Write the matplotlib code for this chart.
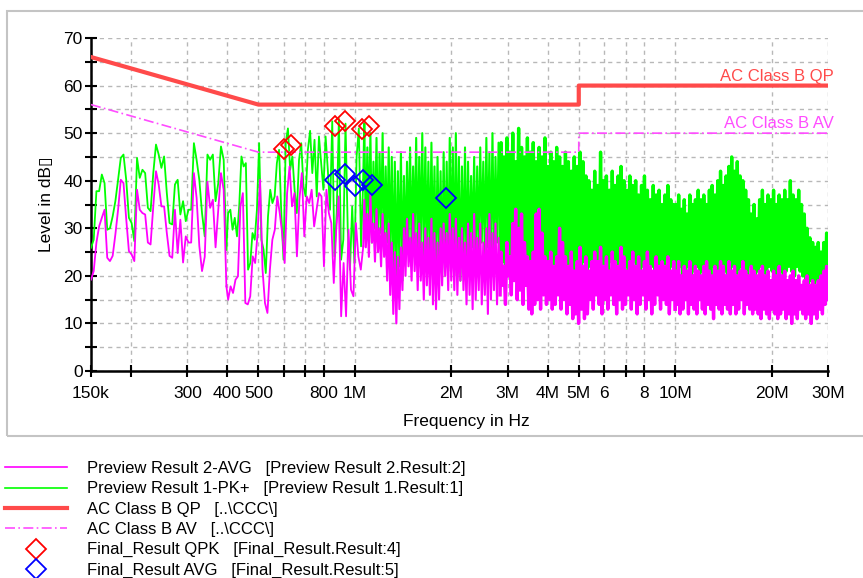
import numpy as np
import matplotlib
matplotlib.use("Agg")
import matplotlib.pyplot as plt
from matplotlib.lines import Line2D
from matplotlib.patches import Rectangle
from matplotlib.ticker import FixedLocator, NullLocator, FixedFormatter

plt.rcParams['font.family'] = ['Liberation Sans', 'DejaVu Sans']
plt.rcParams['path.simplify'] = False  # keep every sweep point

# ---- preview scan, 150k - 400k (read point by point)
pk_a = [25.9, 27.6, 37.8, 37.8, 41.3, 39.5, 29.7, 30.0, 32.5, 35.7,
        40.2, 44.8, 45.5, 40.2, 32.2, 31.1, 27.3, 44.8, 40.6, 42.3,
        41.6, 34.3, 33.6, 41.6, 47.6, 45.5, 42.7, 45.1, 37.4, 31.1,
        30.8, 39.2, 40.2, 32.9, 35.7, 31.5, 33.9, 33.9, 47.9, 44.4,
        40.2, 33.2, 28.3, 45.5, 44.4, 45.5, 35.7, 39.5, 47.2, 44.4, 25.5]
av_a = [19.2, 21.0, 27.0, 30.4, 32.2, 33.9, 23.8, 23.1, 24.2, 28.7,
        33.9, 40.2, 39.5, 32.0, 25.2, 24.5, 23.1, 38.1, 33.9, 33.2,
        32.9, 27.0, 26.6, 34.6, 42.0, 39.2, 34.6, 34.6, 29.0, 24.2,
        23.8, 33.9, 24.8, 31.8, 22.8, 28.3, 27.0, 27.0, 41.6, 36.4,
        26.3, 21.0, 24.0, 39.8, 34.3, 36.0, 26.0, 33.9, 41.6, 38.1, 17.8]

# ---- 400k - 1.06M
pk_b = [33.2, 33.9, 29.7, 32.2, 28.3, 34.6, 45.1, 43.0, 43.7, 21.3,
        22.7, 29.0, 27.6, 33.9, 47.9, 27.6, 25.5, 20.6, 32.5, 38.1,
        35.3, 36.7, 43.7, 46.5, 33.2, 23.4, 47.9, 51.0, 42.3, 45.1,
        38.1, 33.2, 44.4, 47.9, 38.8, 36.7, 46.5, 50.5, 41.6, 48.6,
        36.7, 49.3, 43.7, 38.1, 49.3, 42.3, 33.9, 52.5, 24.1, 33.2,
        53.0, 23.4, 27.6, 52.0, 29.7, 21.3, 34.6, 22.7, 45.1, 51.0,
        26.2, 40.2]
av_b = [15.0, 17.8, 16.4, 19.2, 19.9, 34.6, 37.4, 14.3, 14.0, 15.7,
        24.1, 22.7, 29.0, 40.2, 21.3, 14.3, 12.2, 21.3, 27.6, 29.7,
        36.7, 33.2, 29.0, 22.7, 37.4, 43.0, 34.6, 37.4, 24.1, 36.0,
        41.6, 28.3, 36.7, 35.3, 38.1, 30.4, 33.9, 37.4, 36.7, 22.0,
        38.1, 33.2, 31.1, 18.5, 29.7, 36.7, 11.5, 22.7, 11.5, 29.7,
        17.1, 15.7, 31.1, 24.1, 21.3, 26.2]

# ---- dense part: peaks (hi) and troughs (lo) of each sweep section
pk_c1_hi = [52, 47, 50, 44, 49, 46, 50, 43, 47, 45, 44, 42, 46, 41, 44,
            47, 43, 49, 45, 50, 47, 44, 48, 43, 45, 42, 46, 44, 49, 47,
            50, 45, 43, 47, 44, 41, 45, 43, 47, 44, 49, 46, 50, 45, 48]
pk_c1_lo = [28, 31, 27, 30, 26, 29, 25, 27, 24, 20, 18, 22, 19, 24, 27,
            25, 28, 24, 26, 23, 25, 22, 24, 21, 23, 20, 22, 21, 24, 20,
            22, 19, 23, 21, 24, 26, 23, 25, 27, 24, 26, 23, 25, 27, 24]
av_c1_hi = [36, 33, 37, 31, 34, 30, 33, 29, 31, 27, 25, 24, 26, 30, 32,
            28, 33, 29, 31, 27, 30, 28, 32, 29, 27, 30, 31, 29, 33, 30,
            32, 28, 30, 27, 31, 29, 33, 28, 31, 27, 30, 33, 29, 31, 28]
av_c1_lo = [26, 24, 27, 23, 25, 22, 24, 19, 16, 12, 10, 13, 17, 20, 22,
            19, 21, 17, 19, 15, 18, 16, 14, 13, 15, 18, 20, 17, 19, 17,
            16, 19, 17, 14, 16, 13, 15, 17, 14, 16, 12, 15, 17, 14, 16]

pk_c2_hi = [48, 45, 49, 46, 50, 44, 51, 47, 45, 49, 46, 48, 44, 47, 45,
            49, 43, 46, 44, 47, 45, 43, 46, 44, 42, 45, 43, 46, 44, 41,
            40, 38, 42, 39, 46, 40, 41, 38, 42, 39, 41, 43, 40, 38, 41,
            39, 40, 37, 39, 41, 38, 36, 39, 37, 38, 35, 37, 39, 36, 35]
pk_c2_lo = [23, 21, 24, 22, 20, 23, 21, 24, 22, 21, 23, 20, 22, 21, 23,
            20, 22, 21, 20, 22, 21, 23, 20, 22, 21, 20, 22, 21, 23, 21,
            22, 20, 23, 21, 22, 20, 21, 23, 21, 22, 20, 21, 22, 20, 21,
            23, 21, 20, 22, 21, 20, 22, 21, 20, 22, 21, 20, 21, 22, 20]
av_c2_hi = [25, 22, 27, 24, 31, 34, 30, 33, 27, 24, 23, 25, 33, 34, 29,
            24, 23, 25, 22, 24, 30, 27, 24, 22, 25, 21, 23, 26, 22, 24,
            21, 23, 25, 23, 26, 22, 24, 21, 25, 23, 22, 26, 24, 21, 23,
            25, 22, 24, 21, 23, 25, 22, 21, 24, 22, 23, 22, 24, 21, 23]
av_c2_lo = [18, 14, 20, 16, 19, 15, 17, 14, 18, 13, 12, 14, 15, 13, 16,
            14, 15, 13, 14, 16, 13, 15, 12, 14, 11, 12, 10, 13, 11, 12,
            15, 13, 16, 14, 12, 15, 13, 16, 14, 12, 15, 13, 14, 16, 13,
            15, 12, 14, 16, 13, 15, 12, 14, 16, 13, 15, 14, 12, 15, 13]

pk_c3_hi = [35, 37, 34, 36, 33, 37, 35, 36, 38, 36, 37, 35, 38, 39, 37,
            40, 42, 39, 41, 43, 45, 42, 44, 41, 40, 38, 36, 33, 35, 32,
            36, 38, 35, 37, 36, 38, 35, 37, 36, 38, 36, 40, 37, 36, 38,
            35, 33, 30, 28, 27, 26, 27, 25, 27, 29]
pk_c3_lo = [21, 22, 20, 21, 22, 20, 21, 22, 20, 21, 22, 21, 20, 22, 21,
            20, 22, 21, 20, 21, 22, 20, 21, 22, 21, 20, 22, 21, 20, 21,
            22, 20, 21, 22, 21, 20, 22, 21, 20, 21, 22, 21, 20, 22, 21,
            20, 19, 18, 19, 18, 19, 18, 19, 18, 20]
av_c3_hi = [21, 23, 20, 22, 21, 23, 20, 22, 21, 20, 22, 23, 21, 20, 22,
            21, 23, 22, 20, 23, 21, 22, 20, 21, 23, 21, 20, 22, 21, 20,
            21, 22, 20, 21, 19, 21, 20, 22, 20, 21, 19, 20, 21, 19, 20,
            18, 19, 20, 18, 19, 18, 19, 20, 21, 22]
av_c3_lo = [14, 12, 13, 15, 12, 14, 13, 12, 15, 13, 12, 14, 13, 11, 14,
            13, 12, 14, 13, 12, 14, 12, 13, 15, 12, 14, 13, 12, 13, 12,
            11, 13, 12, 11, 13, 12, 11, 12, 13, 11, 12, 10, 12, 11, 13,
            12, 11, 12, 10, 12, 11, 13, 12, 14, 15]

# sweep section edges in Hz
sect_a = (150e3, 397e3)
sect_b = (402e3, 1.062e6)
sect_c1 = (1.07e6, 2.84e6)
sect_c2 = (2.86e6, 10.0e6)
sect_c3 = (10.05e6, 30.0e6)

# ---- limits
lim_f = [150e3, 500e3, 5e6, 5e6, 30e6]
lim_qp = [66, 56, 56, 60, 60]
lim_av = [56, 46, 46, 50, 50]

# ---- final measurements
qpk_f = [602e3, 630e3, 866e3, 931e3, 1.050e6, 1.109e6]
qpk_lvl = [46.6, 47.5, 51.6, 52.6, 50.8, 51.6]
avg_f = [866e3, 931e3, 1.0e6, 1.057e6, 1.128e6, 1.925e6]
avg_lvl = [40.2, 41.4, 38.9, 40.2, 39.0, 36.4]

xtick_pos = [150e3, 200e3, 300e3, 400e3, 500e3, 600e3, 700e3, 800e3, 1e6,
             2e6, 3e6, 4e6, 5e6, 6e6, 7e6, 8e6, 10e6, 20e6, 30e6]
xtick_lbl = ["150k", "", "300", "400", "500", "", "", "800", "1M",
             "2M", "3M", "4M", "5M", "6", "", "8", "10M", "20M", "30M"]


def zigzag(hi, lo):
    return np.column_stack([hi, lo]).ravel()


def build(parts):
    sects = [sect_a, sect_b, sect_c1, sect_c2, sect_c3]
    f = [np.geomspace(s[0], s[1], len(p)) for s, p in zip(sects, parts)]
    return f, [np.asarray(p, dtype=float) for p in parts]


pk_fs, pk_vs = build([pk_a, pk_b, zigzag(pk_c1_hi, pk_c1_lo),
                      zigzag(pk_c2_hi, pk_c2_lo), zigzag(pk_c3_hi, pk_c3_lo)])
av_fs, av_vs = build([av_a, av_b, zigzag(av_c1_hi, av_c1_lo),
                      zigzag(av_c2_hi, av_c2_lo), zigzag(av_c3_hi, av_c3_lo)])

fig = plt.figure(figsize=(8.63, 5.78), dpi=100)
ax = fig.add_axes([91 / 863, 1 - 371 / 578, 737 / 863, 333 / 578])

green = '#00ff00'
magenta = '#ff00ff'
qp_col = '#ff4a4a'
av_col = '#ff4cff'


def draw_trace(fs, vs, color, z):
    # sparse sections thin, the densest ones thicker so they read as a band
    widths = [1.3, 1.3, 1.5, 2.4, 2.4]
    for i in range(len(fs)):
        f, v = fs[i], vs[i]
        if i > 0:  # join to previous section
            f = np.concatenate([fs[i - 1][-1:], f])
            v = np.concatenate([vs[i - 1][-1:], v])
        ax.plot(f, v, color=color, lw=widths[i], zorder=z)


draw_trace(pk_fs, pk_vs, green, 3)
draw_trace(av_fs, av_vs, magenta, 4)
ax.plot(lim_f, lim_qp, color=qp_col, lw=3, zorder=5)
ax.plot(lim_f, lim_av, color=av_col, lw=1.2, ls=(0, (6, 2, 1, 2)), zorder=5)
ax.plot(qpk_f, qpk_lvl, ls='none', marker='D', ms=10, mfc='none',
        mec='#ff0000', mew=1.3, zorder=6)
ax.plot(avg_f, avg_lvl, ls='none', marker='D', ms=10, mfc='none',
        mec='#0000ff', mew=1.3, zorder=6)

ax.text(31.2e6, 61.9, "AC Class B QP", color=qp_col, fontsize=12,
        ha='right', va='center', zorder=7)
ax.text(31.2e6, 52.1, "AC Class B AV", color=av_col, fontsize=12,
        ha='right', va='center', zorder=7)

ax.set_xscale('log')
ax.set_xlim(150e3, 30e6)
ax.set_ylim(0, 70)
ax.xaxis.set_major_locator(FixedLocator(xtick_pos))
ax.xaxis.set_major_formatter(FixedFormatter(xtick_lbl))
ax.xaxis.set_minor_locator(NullLocator())
ax.set_yticks(range(0, 71, 10))
ax.set_yticks(range(5, 70, 10), minor=True)

ax.grid(True, which='both', color='#b8b8b8', ls=(0, (3, 3)), lw=1)
ax.set_axisbelow(True)
for s in ['top', 'right']:
    ax.spines[s].set_visible(False)
for s in ['left', 'bottom']:
    ax.spines[s].set_linewidth(1.8)
ax.tick_params(which='both', direction='inout', length=9, width=1.5,
               labelsize=12.5, colors='black')
ax.tick_params(axis='y', pad=1.5)
ax.tick_params(axis='x', pad=6)

ax.set_xlabel("Frequency in Hz", fontsize=12.5)
ax.xaxis.set_label_coords(0.51, -0.13)
ax.set_ylabel("Level in dB\u25af", fontsize=12.5)
ax.yaxis.set_label_coords(-0.050, 0.5)

# frame round the chart area
fig.patches.append(Rectangle((7 / 863, 1 - 436 / 578), 870 / 863, 425 / 578,
                             transform=fig.transFigure, fill=False,
                             edgecolor='#c4c4c4', lw=1.5))

handles = [
    Line2D([], [], color=magenta, lw=1.2),
    Line2D([], [], color=green, lw=1.2),
    Line2D([], [], color=qp_col, lw=3),
    Line2D([], [], color=av_col, lw=1.2, ls=(0, (6, 2, 1, 2))),
    Line2D([], [], ls='none', marker='D', ms=10, mfc='none', mec='#ff0000', mew=1.3),
    Line2D([], [], ls='none', marker='D', ms=10, mfc='none', mec='#0000ff', mew=1.3),
]
labels = [
    "Preview Result 2-AVG   [Preview Result 2.Result:2]",
    "Preview Result 1-PK+   [Preview Result 1.Result:1]",
    "AC Class B QP   [..\\CCC\\]",
    "AC Class B AV   [..\\CCC\\]",
    "Final_Result QPK   [Final_Result.Result:4]",
    "Final_Result AVG   [Final_Result.Result:5]",
]
fig.legend(handles, labels, loc='upper left', bbox_to_anchor=(5 / 863, 1 - 461 / 578),
           frameon=False, fontsize=12, handlelength=3.7, handletextpad=1.2,
           labelspacing=0.32, borderpad=0, borderaxespad=0, numpoints=1)

fig.savefig("out.png", dpi=100)
